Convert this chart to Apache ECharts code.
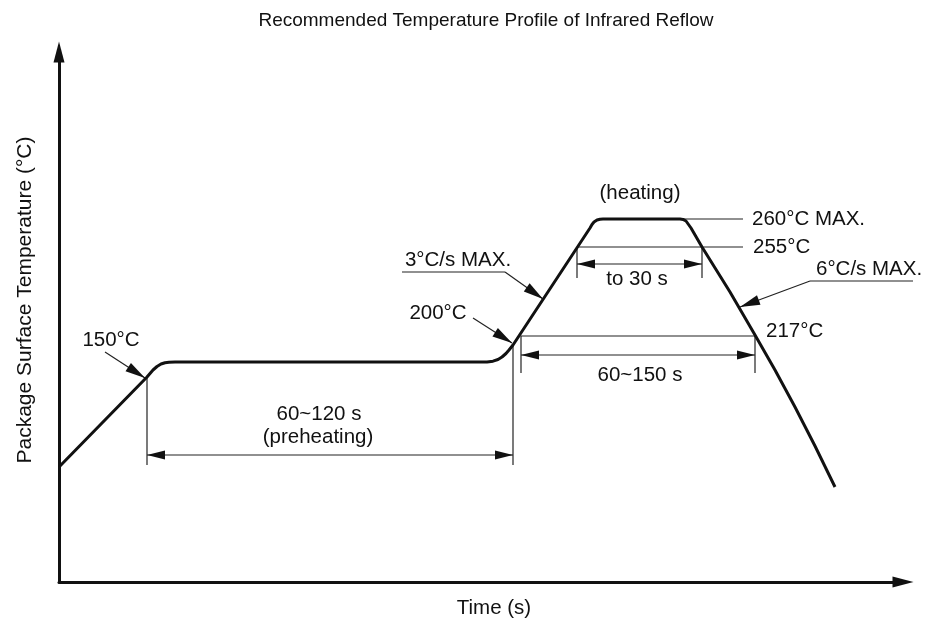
<!DOCTYPE html>
<html><head><meta charset="utf-8">
<script src="https://cdn.jsdelivr.net/npm/echarts@6/dist/echarts.min.js"></script>
<style>html,body{margin:0;padding:0;background:#fff}#c{width:927px;height:624px}</style>
</head><body><div id="c"></div>
<script>
// Schematic units (no numeric scale on the original axes)
const profileTime = [0, 88, 91, 94, 98, 102, 106, 110, 116, 428, 434, 439, 443, 447, 450, 452, 454, 531, 533, 535, 538, 541, 544, 621, 624, 627, 629, 632, 643, 671, 696, 716, 736, 756, 776];
const profileTemp = [115, 205, 208.5, 212, 215.5, 218, 219.3, 219.8, 220, 220, 220.8, 222.5, 225, 228.5, 232, 234.5, 237, 354, 357.5, 360, 362, 362.8, 363, 363, 362.6, 361, 359, 354, 335, 290, 247, 212, 175, 136, 95];

// thin reference / extension lines: [x1, y1, x2, y2]
const refLines = [
  [88, 204, 88, 117],
  [454, 237, 454, 117],
  [462, 246, 696, 246],
  [462, 246, 462, 209],
  [696, 246, 696, 209],
  [518, 335, 684, 335],
  [518, 335, 518, 304],
  [643, 335, 643, 304],
  [623, 363, 684, 363],
  [343, 310, 446, 310],
  [751, 301, 854, 301]
];
// leader arrows (head at the second point)
const leaderArrows = [
  [46, 230, 86, 204],
  [414, 264, 453, 239],
  [446, 310, 484, 283],
  [751, 301, 681, 275]
];
// dimension arrows (heads at both ends)
const dimArrows = [
  [88, 127, 454, 127],
  [462, 227, 696, 227],
  [518, 318, 643, 318]
];
// annotation labels
const labelTexts = ['150°C', '60~120 s', '(preheating)', '200°C', '3°C/s MAX.', '(heating)', '260°C MAX.', '255°C', 'to 30 s', '6°C/s MAX.', '217°C', '60~150 s'];
const labelX = [52, 260, 259, 379, 399, 581, 693, 694, 578, 757, 707, 581];
const labelY = [242, 168, 145, 269, 322, 389, 363, 335, 303, 313, 251, 207];
const labelAlign = ['center', 'center', 'center', 'center', 'center', 'center', 'left', 'left', 'center', 'left', 'left', 'center'];

const titleText = 'Recommended Temperature Profile of Infrared Reflow';
const xName = 'Time (s)';
const yName = 'Package Surface Temperature (°C)';

const FONT = '"Liberation Sans", Arial, Helvetica, sans-serif';
const INK = '#111';

function head(tip, from, L, hw) {
  const dx = tip[0] - from[0], dy = tip[1] - from[1];
  const len = Math.hypot(dx, dy) || 1;
  const ux = dx / len, uy = dy / len;
  const bx = tip[0] - ux * L, by = tip[1] - uy * L;
  return {type: 'polygon', shape: {points: [tip, [bx - uy * hw, by + ux * hw], [bx + uy * hw, by - ux * hw]]}, style: {fill: INK}};
}
function segRender(startHead, endHead, L, hw) {
  return function (params, api) {
    const a = api.coord([api.value(0), api.value(1)]);
    const b = api.coord([api.value(2), api.value(3)]);
    const ch = [{type: 'line', shape: {x1: a[0], y1: a[1], x2: b[0], y2: b[1]}, style: {stroke: '#222', lineWidth: 1.2}}];
    if (startHead) ch.push(head(a, b, L, hw));
    if (endHead) ch.push(head(b, a, L, hw));
    return {type: 'group', children: ch};
  };
}

const chart = echarts.init(document.getElementById('c'), null, {renderer: 'canvas'});
chart.setOption({
  animation: false,
  backgroundColor: '#fff',
  grid: {left: 59, right: 24, top: 52, bottom: 42},
  xAxis: {
    type: 'value', min: 0, max: 844,
    axisLine: {show: true, symbol: ['none', 'triangle'], symbolSize: [11, 21], lineStyle: {color: INK, width: 3}},
    axisTick: {show: false}, axisLabel: {show: false}, splitLine: {show: false}
  },
  yAxis: {
    type: 'value', min: 0, max: 530,
    axisLine: {show: true, symbol: ['none', 'triangle'], symbolSize: [11, 21], lineStyle: {color: INK, width: 3}},
    axisTick: {show: false}, axisLabel: {show: false}, splitLine: {show: false}
  },
  graphic: [
    {type: 'text', x: 486, y: 21, style: {text: titleText, font: '19px ' + FONT, fill: INK, align: 'center', verticalAlign: 'middle'}},
    {type: 'text', x: 494, y: 608, style: {text: xName, font: '20.5px ' + FONT, fill: INK, align: 'center', verticalAlign: 'middle'}},
    {type: 'text', x: 25, y: 300, rotation: Math.PI / 2, style: {text: yName, font: '21px ' + FONT, fill: INK, align: 'center', verticalAlign: 'middle'}}
  ],
  series: [
    {
      type: 'line', data: profileTime.map((t, i) => [t, profileTemp[i]]),
      showSymbol: false, symbol: 'none', smooth: false,
      lineStyle: {color: INK, width: 3, join: 'round'}, z: 5, silent: true
    },
    {type: 'custom', data: refLines, encode: {x: [0, 2], y: [1, 3]}, renderItem: segRender(false, false, 0, 0), silent: true, z: 4},
    {type: 'custom', data: leaderArrows, encode: {x: [0, 2], y: [1, 3]}, renderItem: segRender(false, true, 20, 5), silent: true, z: 4},
    {type: 'custom', data: dimArrows, encode: {x: [0, 2], y: [1, 3]}, renderItem: segRender(true, true, 18, 4.5), silent: true, z: 4},
    {
      type: 'custom', data: labelX.map((x, i) => [x, labelY[i]]), encode: {x: 0, y: 1}, silent: true, z: 6,
      renderItem: function (params, api) {
        const p = api.coord([api.value(0), api.value(1)]);
        return {type: 'text', x: p[0], y: p[1], style: {text: labelTexts[params.dataIndex], font: '20.5px ' + FONT, fill: INK, align: labelAlign[params.dataIndex], verticalAlign: 'middle'}};
      }
    }
  ]
});
</script></body></html>
